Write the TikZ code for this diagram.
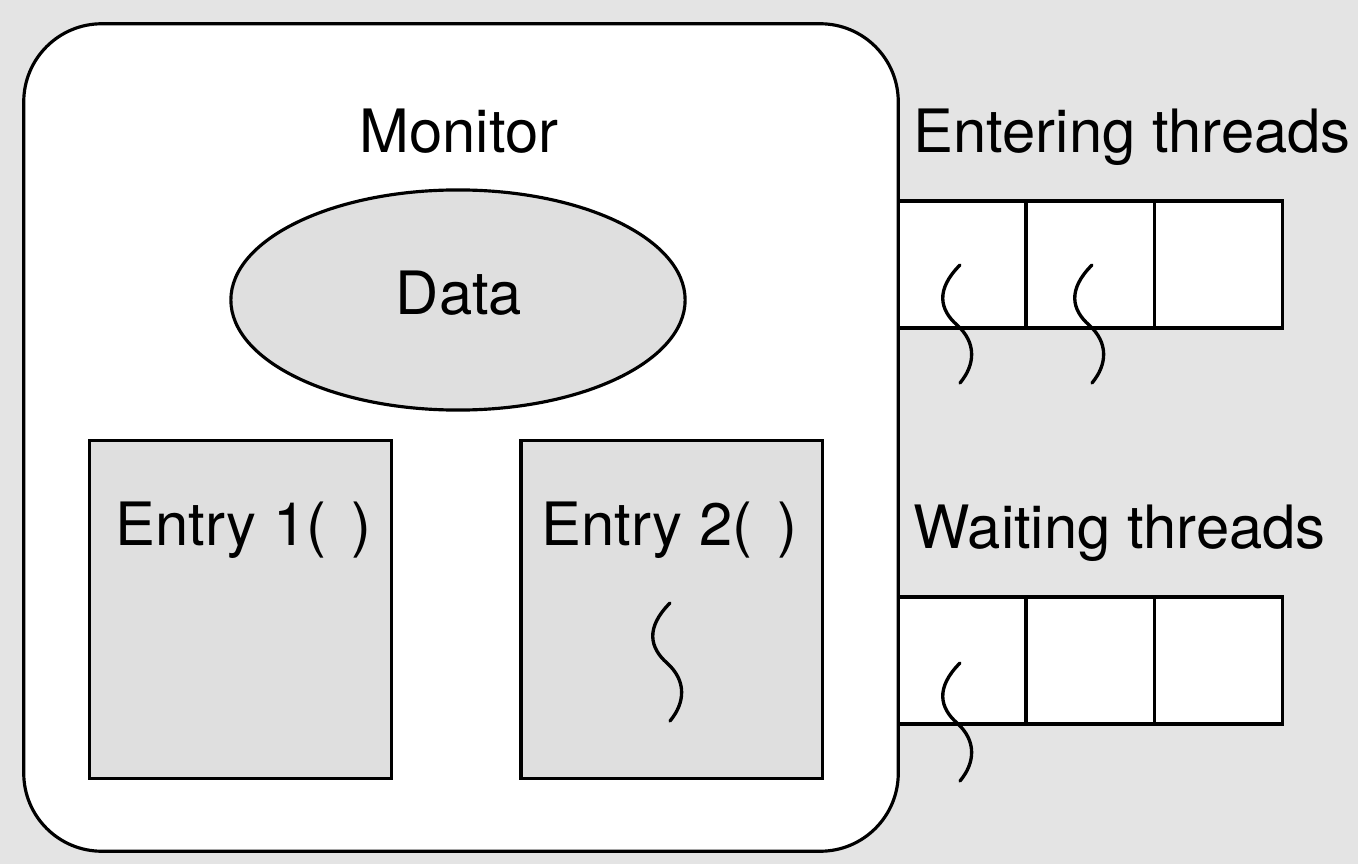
\documentclass[tikz,border=0pt]{standalone}
\usepackage{fontspec}
\setmainfont{TeX Gyre Heros}
\usetikzlibrary{shapes.geometric,positioning}
\definecolor{bggray}{RGB}{228,228,228}
\definecolor{boxgray}{RGB}{223,223,223}

\tikzset{
  outline/.style={draw=black,line width=0.9pt},
  graybox/.style={outline,fill=boxgray,inner sep=0,outer sep=0,minimum width=3.01cm,minimum height=3.37cm},
  cell/.style={outline,fill=white,inner sep=0,outer sep=0,minimum width=1.28cm,minimum height=1.27cm},
  txt/.style={inner sep=0,font=\fontsize{17}{20}\selectfont},
  thread/.pic={\draw[line width=0.95pt,line cap=round] (0,0) .. controls (-25,25) and (-20,45) .. (-3,60) .. controls (17,78) and (15,100) .. (0,118);}
}
\newcommand{\parens}{(\hspace{0.42em})}

\begin{document}
\begin{tikzpicture}[x=0.01cm,y=-0.01cm]
        \fill[bggray] (0,0) rectangle (1358,864);
        
        % queues
        \node[cell] (enter1) at (962,264.5) {};
        \node[cell,right=0pt of enter1] (enter2) {};
        \node[cell,right=0pt of enter2] (enter3) {};
        \node[cell] (wait1) at (962,660.5) {};
        \node[cell,right=0pt of wait1] (wait2) {};
        \node[cell,right=0pt of wait2] (wait3) {};
        
        % monitor
        \node[outline,fill=white,rounded corners=0.78cm,inner sep=0,outer sep=0,
              minimum width=8.74cm,minimum height=8.27cm] (monitor) at (461,437.5) {};
        \node[txt,anchor=base] (monitortext) at (459,153) {Monitor};
        \node[outline,fill=boxgray,ellipse,inner sep=0,minimum width=4.54cm,minimum height=2.2cm] (data) at (458,300) {};
        \node[txt,anchor=base] (datatext) at (459,315) {Data};
        
        \node[graybox] (entry1) at (240.5,609.5) {};
        \node[graybox] (entry2) at (671.5,609.5) {};
        \node[txt,anchor=base west] (entry1text) at (115,545) {Entry 1\parens};
        \node[txt,anchor=base west] (entry2text) at (541,545) {Entry 2\parens};
        
        \node[txt,anchor=base west] (entertext) at (913,153) {Entering threads};
        \node[txt,anchor=base west] (waittext) at (913,548) {Waiting threads};
        
        % threads
        \pic at (960,265) {thread};
        \pic at (1092,265) {thread};
        \pic at (960,663) {thread};
        \pic at (670,603) {thread};
        
    \end{tikzpicture}
\end{document}
